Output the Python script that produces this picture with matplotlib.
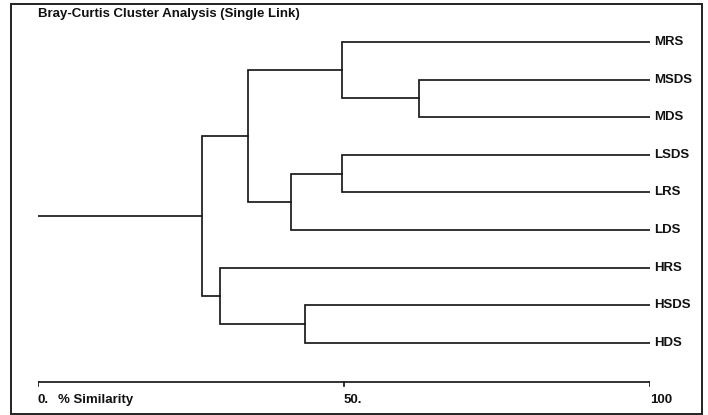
import matplotlib.pyplot as plt
from matplotlib.patches import Rectangle

plt.rcParams['font.family'] = ['Liberation Sans', 'DejaVu Sans']

# leaves, top to bottom
leaves = ['MRS', 'MSDS', 'MDS', 'LSDS', 'LRS', 'LDS', 'HRS', 'HSDS', 'HDS']
# merges: (child a, child b, % similarity); children are leaf names or merge ids
merges = [
    ('MSDS', 'MDS', 62.3),    # 0
    ('LSDS', 'LRS', 49.6),    # 1
    ('HSDS', 'HDS', 43.7),    # 2
    (1, 'LDS', 41.3),         # 3
    ('MRS', 0, 49.6),         # 4
    (4, 3, 34.3),             # 5
    ('HRS', 2, 29.7),         # 6
    (5, 6, 26.8),             # 7
]
ticks = [0, 50, 100]
tick_labels = ['0.', '50.', '100']

W, H = 708, 415
fig = plt.figure(figsize=(W / 100, H / 100), dpi=100)
# axes: x 0..100 -> px 38..650 ; y in leaf units, leaf 0 at px 42, step 37.6
x0, x1 = 38, 650
step = 37.6
ytop = -(42 - 4) / step
ybot = (414 - 42) / step
ax = fig.add_axes([x0 / W, (H - 414) / H, (x1 - x0) / W, 410 / H])
ax.set_xlim(0, 100)
ax.set_ylim(ybot, ytop)
ax.axis('off')

lc = '#1a1a1a'
lw = 1.25
fs = 9.5

pos = {}
for i, name in enumerate(leaves):
    pos[name] = (100, i)
    ax.text(100.6, i, name, fontsize=fs, fontweight='bold', va='center', ha='left', color='#111')


def get(k):
    return pos[k]


for j, (a, b, s) in enumerate(merges):
    xa, ya = get(a)
    xb, yb = get(b)
    ax.plot([xa, s, s, xb], [ya, ya, yb, yb], color=lc, lw=lw, solid_joinstyle='miter')
    pos[j] = (s, (ya + yb) / 2)

# root stem
xr, yr = pos[len(merges) - 1]
ax.plot([0, xr], [yr, yr], color=lc, lw=lw)

# similarity scale
ys = (382 - 42) / step
ax.plot([0, 100], [ys, ys], color=lc, lw=lw)
for t, lab in zip(ticks, tick_labels):
    ax.plot([t, t], [ys, ys + 0.1], color=lc, lw=lw)
    ax.text(t, ys + 0.48, lab, fontsize=fs, fontweight='bold', va='center', ha='left', color='#111')
ax.text(3.3, ys + 0.48, '% Similarity', fontsize=fs, fontweight='bold', va='center', ha='left', color='#111')

fig.text(38 / W, 1 - 14 / H, 'Bray-Curtis Cluster Analysis (Single Link)', fontsize=fs,
         fontweight='bold', va='center', ha='left', color='#111')

fig.patches.append(Rectangle((11 / W, 1 - 414 / H), 691 / W, 410 / H, transform=fig.transFigure,
                             fill=False, edgecolor='#222', lw=1.4))

fig.savefig('out.png', dpi=100)
